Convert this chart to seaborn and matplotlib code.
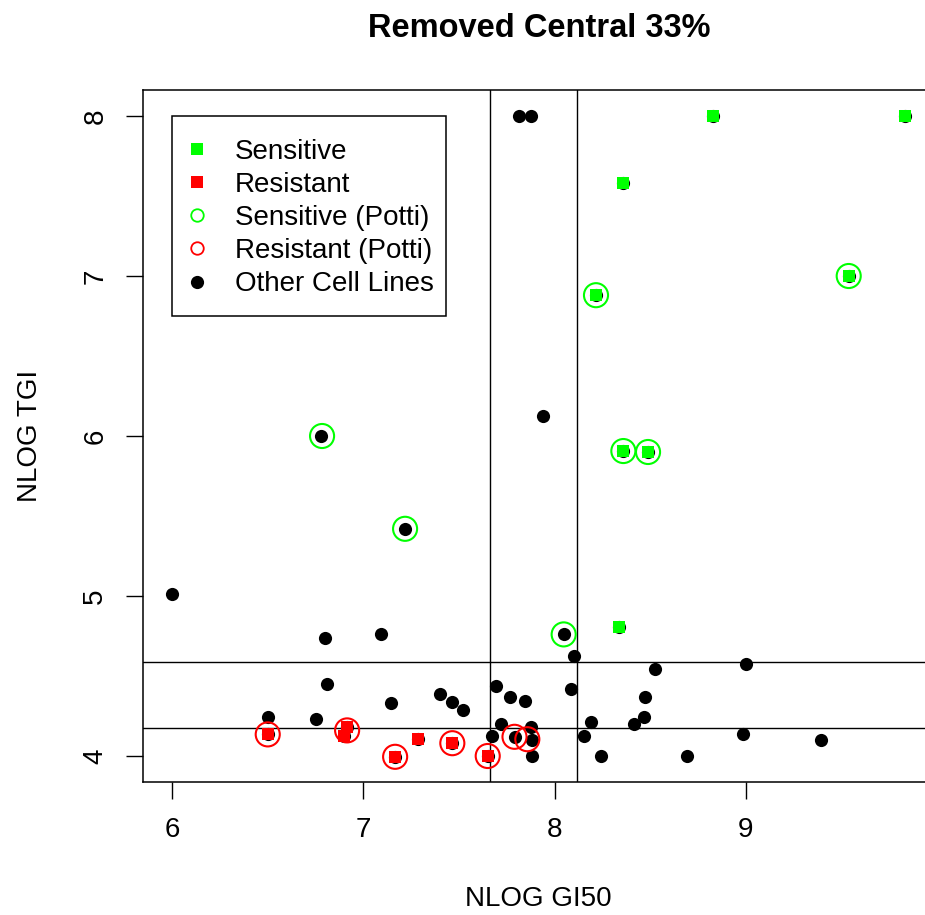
import matplotlib
matplotlib.use("Agg")
import matplotlib.pyplot as plt
from matplotlib.lines import Line2D
from matplotlib.patches import Rectangle
import seaborn as sns
import pandas as pd

# ---- data ----
other_x = [6.00, 6.78, 7.22, 6.80, 7.09, 6.81, 6.50, 6.754, 7.143, 7.40, 7.465, 7.523,
           7.694, 7.765, 7.847, 7.72, 7.673, 7.878, 7.79, 7.88, 7.88, 8.047, 8.10, 8.087,
           8.192, 8.155, 8.24, 8.527, 8.474, 8.469, 8.417, 8.694, 8.999, 8.983, 9.391,
           7.939, 7.814, 7.875]
other_y = [5.01, 6.00, 5.42, 4.74, 4.76, 4.45, 4.245, 4.233, 4.33, 4.39, 4.34, 4.286,
           4.44, 4.37, 4.342, 4.20, 4.125, 4.179, 4.12, 4.10, 4.00, 4.76, 4.625, 4.419,
           4.21, 4.127, 4.00, 4.544, 4.371, 4.244, 4.20, 4.00, 4.577, 4.136, 4.10,
           6.125, 8.00, 8.00]

sens_x = [8.83, 9.833, 8.359, 8.216, 9.537, 8.359, 8.488, 8.338]
sens_y = [8.00, 8.00, 7.58, 6.88, 7.00, 5.906, 5.90, 4.804]

res_x = [6.50, 6.917, 6.90, 7.166, 7.288, 7.465, 7.65]
res_y = [4.136, 4.183, 4.125, 3.995, 4.104, 4.08, 4.00]

potti_sens_x = [6.784, 7.218, 8.047, 8.216, 9.537, 8.359, 8.488]
potti_sens_y = [6.00, 5.42, 4.76, 6.88, 7.00, 5.906, 5.90]

potti_res_x = [6.50, 6.915, 7.166, 7.465, 7.65, 7.79, 7.857]
potti_res_y = [4.135, 4.16, 3.995, 4.08, 4.00, 4.12, 4.105]

cut_x = [7.662, 8.115]
cut_y = [4.589, 4.177]

legend_labels = ["Sensitive", "Resistant", "Sensitive (Potti)",
                 "Resistant (Potti)", "Other Cell Lines"]

title = "Removed Central 33%"
xlabel = "NLOG GI50"
ylabel = "NLOG TGI"
xticks = [6, 7, 8, 9]
yticks = [4, 5, 6, 7, 8]

# ---- style ----
sns.set_style("white")
plt.rcParams["font.family"] = ["Liberation Sans", "DejaVu Sans"]
for k in ["text.color", "axes.labelcolor", "xtick.color", "ytick.color"]:
    plt.rcParams[k] = "black"
FS = 20

fig = plt.figure(figsize=(9.25, 9.15), dpi=100)
ax = fig.add_axes([143 / 925, 1 - 782 / 915, 791.6 / 925, 692 / 915])

all_df = pd.DataFrame({"x": other_x + sens_x + res_x, "y": other_y + sens_y + res_y})
sens_df = pd.DataFrame({"x": sens_x, "y": sens_y})
res_df = pd.DataFrame({"x": res_x, "y": res_y})
ps_df = pd.DataFrame({"x": potti_sens_x, "y": potti_sens_y})
pr_df = pd.DataFrame({"x": potti_res_x, "y": potti_res_y})

sns.scatterplot(data=all_df, x="x", y="y", color="black", marker="o", s=90,
                linewidth=0, ax=ax, legend=False, zorder=3)
sns.scatterplot(data=sens_df, x="x", y="y", color="#00FF00", marker="s", s=80,
                linewidth=0, ax=ax, legend=False, zorder=4)
sns.scatterplot(data=res_df, x="x", y="y", color="#FF0000", marker="s", s=80,
                linewidth=0, ax=ax, legend=False, zorder=4)
sns.scatterplot(data=ps_df, x="x", y="y", marker="o", s=300, facecolors="none",
                edgecolor="#00FF00", linewidth=1.5, ax=ax, legend=False, zorder=5)
sns.scatterplot(data=pr_df, x="x", y="y", marker="o", s=300, facecolors="none",
                edgecolor="#FF0000", linewidth=1.5, ax=ax, legend=False, zorder=5)

for v in cut_x:
    ax.axvline(v, color="black", linewidth=1.0, zorder=2)
for h in cut_y:
    ax.axhline(h, color="black", linewidth=1.0, zorder=2)

ax.set_xlim(5.848, 9.986)
ax.set_ylim(3.8375, 8.1625)
ax.set_xticks(xticks)
ax.set_yticks(yticks)
ax.set_xticklabels([str(t) for t in xticks], fontsize=FS)
ax.set_yticklabels([str(t) for t in yticks], fontsize=FS, rotation=90, va="center")
ax.tick_params(axis="both", direction="out", length=12, width=1.0, color="black",
               bottom=True, left=True)
ax.tick_params(axis="x", pad=13)
ax.tick_params(axis="y", pad=13)
for sp in ax.spines.values():
    sp.set_visible(True)
    sp.set_color("black")
    sp.set_linewidth(1.1)

ax.set_xlabel(xlabel, fontsize=FS, labelpad=31)
ax.set_ylabel(ylabel, fontsize=FS, labelpad=28)
ax.set_title(title, fontsize=23.5, fontweight="bold", pad=38)

handles = [
    Line2D([], [], linestyle="none", marker="s", markersize=9, color="#00FF00", markeredgewidth=0),
    Line2D([], [], linestyle="none", marker="s", markersize=9, color="#FF0000", markeredgewidth=0),
    Line2D([], [], linestyle="none", marker="o", markersize=9, markerfacecolor="none",
           markeredgecolor="#00FF00", markeredgewidth=1.3),
    Line2D([], [], linestyle="none", marker="o", markersize=9, markerfacecolor="none",
           markeredgecolor="#FF0000", markeredgewidth=1.3),
    Line2D([], [], linestyle="none", marker="o", markersize=9.5, color="black", markeredgewidth=0),
]
# legend frame drawn as its own box
ax.add_patch(Rectangle((0.03626, 0.6738), 0.3461, 0.2890, transform=ax.transAxes,
                       facecolor="white", edgecolor="black", linewidth=1.1, zorder=9))
leg = ax.legend(handles, legend_labels, loc="upper left",
                bbox_to_anchor=(0.05906, 0.9299), bbox_transform=ax.transAxes,
                borderaxespad=0, fontsize=FS, frameon=False, borderpad=0,
                handlelength=0.5, handletextpad=1.13, labelspacing=0.26)
leg.set_zorder(10)

fig.savefig("out.png", dpi=100)
